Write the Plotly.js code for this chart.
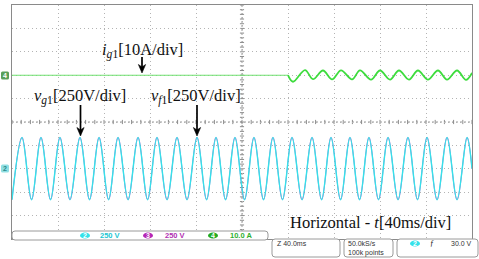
<!DOCTYPE html>
<html>
<head>
<meta charset="utf-8">
<script src="https://cdn.plot.ly/plotly-3.0.1.min.js"></script>
<style>html,body{margin:0;padding:0;background:#fff;}#chart{width:479px;height:259px;}</style>
</head>
<body>
<div id="chart"></div>
<script>
// ---- data read from the scope capture (time in ms, 40 ms/div, 0..400 ms) ----
const vTime = [0, 8.7, 17.0, 25.2, 33.5, 41.7, 50.4, 59.1, 67.4, 75.7, 84.0, 92.2, 100.9, 109.6,
  117.9, 126.1, 134.8, 143.5, 152.2, 160.9, 169.2, 177.4, 185.7, 193.9, 202.2, 210.4, 218.7,
  226.9, 235.2, 243.5, 252.2, 260.9, 269.2, 277.4, 285.7, 293.9, 302.2, 310.4, 318.7, 327.0,
  335.7, 344.3, 352.6, 360.9, 369.6, 378.3, 387.0, 395.7, 400];
const vg1Volts = [-330, 335, -330, 335, -330, 335, -330, 335, -330, 335, -330, 335, -330, 335,
  -330, 335, -330, 335, -330, 335, -330, 335, -330, 335, -330, 335, -330,
  335, -330, 335, -330, 335, -330, 335, -330, 335, -330, 335, -330, 335,
  -330, 335, -330, 335, -330, 335, -330, 335, 0];
const vf1Volts = [-330, 335, -330, 335, -330, 335, -330, 335, -330, 335, -330, 335, -330, 335,
  -330, 335, -330, 335, -330, 335, -330, 335, -330, 335, -330, 335, -330,
  335, -330, 335, -330, 335, -330, 335, -330, 335, -330, 335, -330, 335,
  -330, 335, -330, 335, -330, 335, -330, 335, 0];
// grid current: zero until ~240 ms, then oscillation
const iFlatTime = [0, 240.0];
const iFlatAmps = [0, 0];
const iOscTime = [240.0, 244.3, 254.8, 261.7, 270.4, 278.3, 286.1, 295.7, 302.6, 312.2, 320.0,
  328.7, 336.5, 345.2, 353.0, 361.7, 370.4, 378.3, 387.0, 394.8, 400];
const iOscAmps = [0, -2.8, 2.2, -1.7, 2.0, -1.8, 2.1, -1.8, 2.1, -1.9, 2.0,
  -1.9, 2.0, -1.9, 2.0, -1.9, 2.0, -1.9, 2.0, -2.0, 1.0];

// scope settings
const voltsPerDiv = 250, ampsPerDiv = 10, msPerDiv = 40;
const vOffsetDiv = -2, iOffsetDiv = 2;
const statusLabels = ['250 V', '250 V', '10.0 A'];
const channelIds = ['2', '3', '4'];

// ---- helpers (pixel -> paper, margins are zero so paper = full figure) ----
const W = 479, H = 259;
const X = px => px / W;
const Y = py => 1 - py / H;
const P = (x, y) => X(x) + ',' + Y(y);
function rrect(x0, y0, x1, y1, r) {
  return 'M' + P(x0 + r, y0) + ' L' + P(x1 - r, y0) + ' Q' + P(x1, y0) + ' ' + P(x1, y0 + r) +
    ' L' + P(x1, y1 - r) + ' Q' + P(x1, y1) + ' ' + P(x1 - r, y1) +
    ' L' + P(x0 + r, y1) + ' Q' + P(x0, y1) + ' ' + P(x0, y1 - r) +
    ' L' + P(x0, y0 + r) + ' Q' + P(x0, y0) + ' ' + P(x0 + r, y0) + ' Z';
}

const cyan = '#34e2ea', purple = '#b526b5', green = '#3ddc3d';

const traces = [
  {x: vTime, y: vf1Volts, yaxis: 'y2', type: 'scatter', mode: 'lines',
   line: {color: purple, width: 0.7, shape: 'spline', smoothing: 1}, name: 'v_f1'},
  {x: vTime, y: vg1Volts, yaxis: 'y2', type: 'scatter', mode: 'lines',
   line: {color: cyan, width: 1.4, shape: 'spline', smoothing: 1}, name: 'v_g1'},
  {x: iFlatTime, y: iFlatAmps, yaxis: 'y3', type: 'scatter', mode: 'lines',
   line: {color: '#6fe06f', width: 1.1}, name: 'i_g1'},
  {x: iOscTime, y: iOscAmps, yaxis: 'y3', type: 'scatter', mode: 'lines',
   line: {color: green, width: 1.8, shape: 'spline', smoothing: 1}, name: 'i_g1'}
];

const shapes = [];
// centre cross lines with minor ticks (1/5 division)
shapes.push({type: 'line', xref: 'x', yref: 'y', x0: 0, x1: 400, y0: 0, y1: 0,
  line: {color: '#9a9a9a', width: 1, dash: '2px,2px'}, layer: 'below'});
shapes.push({type: 'line', xref: 'x', yref: 'y', x0: 200, x1: 200, y0: -5, y1: 5,
  line: {color: '#9a9a9a', width: 1, dash: '2px,2px'}, layer: 'below'});
for (let k = 0; k <= 50; k++) {
  const t = k * msPerDiv / 5;
  shapes.push({type: 'line', xref: 'x', yref: 'y', x0: t, x1: t, y0: -0.09, y1: 0.09,
    line: {color: '#8c8c8c', width: 1}, layer: 'below'});
}
for (let k = -25; k <= 25; k++) {
  const d = k / 5;
  shapes.push({type: 'line', xref: 'x', yref: 'y', x0: 198.2, x1: 201.8, y0: d, y1: d,
    line: {color: '#8c8c8c', width: 1}, layer: 'below'});
}
// status strip and bottom boxes
shapes.push({type: 'path', xref: 'paper', yref: 'paper', path: rrect(12, 231, 268, 240, 3),
  fillcolor: '#ffffff', line: {color: '#9a9a9a', width: 1}, layer: 'above'});
shapes.push({type: 'path', xref: 'paper', yref: 'paper', path: rrect(272, 239, 340, 257, 3),
  fillcolor: '#ffffff', line: {color: '#9a9a9a', width: 1}, layer: 'above'});
shapes.push({type: 'path', xref: 'paper', yref: 'paper', path: rrect(344, 239, 393, 257, 3),
  fillcolor: '#ffffff', line: {color: '#9a9a9a', width: 1}, layer: 'above'});
shapes.push({type: 'path', xref: 'paper', yref: 'paper', path: rrect(397, 239, 478, 257, 3),
  fillcolor: '#ffffff', line: {color: '#9a9a9a', width: 1}, layer: 'above'});
// channel badges in status strip
const badges = [[85, 235.5, cyan], [148, 235.5, purple], [213, 235.5, '#22aa22'], [415, 243.5, cyan]];
badges.forEach(b => {
  shapes.push({type: 'circle', xref: 'paper', yref: 'paper', x0: X(b[0] - 5), x1: X(b[0] + 5),
    y0: Y(b[1] + 3), y1: Y(b[1] - 3), fillcolor: b[2], line: {width: 0}, layer: 'above'});
});
// channel ground markers on the left
shapes.push({type: 'path', xref: 'paper', yref: 'paper', path: rrect(1, 71.5, 9, 79.5, 1.5),
  fillcolor: '#5aa05a', line: {width: 0}, layer: 'above'});
shapes.push({type: 'path', xref: 'paper', yref: 'paper', path: rrect(1, 164.5, 9, 172.5, 1.5),
  fillcolor: '#8fdfe3', line: {width: 0}, layer: 'above'});
// arrows (line + stealth head)
function arrow(x, tipY, tailY) {
  shapes.push({type: 'line', xref: 'paper', yref: 'paper', x0: X(x), x1: X(x), y0: Y(tailY), y1: Y(tipY - 5),
    line: {color: '#000', width: 1.7}, layer: 'above'});
  shapes.push({type: 'path', xref: 'paper', yref: 'paper',
    path: 'M' + P(x - 3.6, tipY - 8.5) + ' L' + P(x, tipY) + ' L' + P(x + 3.6, tipY - 8.5) + ' L' + P(x, tipY - 6) + ' Z',
    fillcolor: '#000', line: {color: '#000', width: 0.6}, layer: 'above'});
}
arrow(142, 73, 57);
arrow(80.5, 136, 105);
arrow(197, 136, 105);

const serif = 'Liberation Serif, Times New Roman, serif';
const sans = 'Liberation Sans, Arial, sans-serif';
const ann = [];
function txt(x, y, text, size, color, family, anchor, weight) {
  ann.push({xref: 'paper', yref: 'paper', x: X(x), y: Y(y), text: text, showarrow: false,
    xanchor: anchor || 'center', yanchor: 'middle',
    font: {size: size, color: color, family: family, weight: weight || 'normal'}});
}
txt(142, 50, '<i>i</i><sub><i>g</i>1</sub>[10A/div]', 16.5, '#111', serif);
txt(80, 97, '<i>v</i><sub><i>g</i>1</sub>[250V/div]', 16.5, '#111', serif);
txt(196, 97, '<i>v</i><sub><i>f</i>1</sub>[250V/div]', 16.5, '#111', serif);
txt(370, 223, 'Horizontal - <i>t</i>[40ms/div]', 16.5, '#111', serif);

txt(98, 235.8, statusLabels[0], 7.5, '#22c6d2', sans, 'left', 'bold');
txt(163, 235.8, statusLabels[1], 7.5, '#b22fb2', sans, 'left', 'bold');
txt(228, 235.8, statusLabels[2], 7.5, '#2fb02f', sans, 'left', 'bold');
txt(85, 235.6, channelIds[0], 7, '#fff', sans, 'center', 'bold');
txt(148, 235.6, channelIds[1], 7, '#fff', sans, 'center', 'bold');
txt(213, 235.6, channelIds[2], 7, '#fff', sans, 'center', 'bold');
txt(415, 243.6, channelIds[0], 7, '#fff', sans, 'center', 'bold');
txt(5, 75.6, channelIds[2], 7, '#fff', sans, 'center', 'bold');
txt(5, 168.6, channelIds[0], 7, '#2a8a8a', sans, 'center', 'bold');
txt(275, 243.5, 'Z 40.0ms', 7, '#333', sans, 'left');
txt(346, 243.5, '50.0kS/s', 7, '#333', sans, 'left');
txt(346, 252.5, '100k points', 7, '#333', sans, 'left');
txt(432, 243.5, 'ƒ', 8, '#222', serif);
txt(474, 243.5, '30.0 V', 7, '#333', sans, 'right');

const gridCol = '#b4b4b4';
const layout = {
  width: W, height: H,
  margin: {l: 0, r: 0, t: 0, b: 0, pad: 0},
  paper_bgcolor: '#ffffff', plot_bgcolor: '#ffffff',
  showlegend: false,
  xaxis: {domain: [X(12), X(472)], range: [0, 10 * msPerDiv], tick0: 0, dtick: msPerDiv,
    showticklabels: false, ticks: '', showgrid: true, gridcolor: gridCol, griddash: '1px,3px', gridwidth: 1,
    showline: true, mirror: true, linecolor: '#8a8a8a', linewidth: 1, zeroline: false, fixedrange: true},
  yaxis: {domain: [Y(239), Y(5)], range: [-5, 5], tick0: 0, dtick: 1,
    showticklabels: false, ticks: '', showgrid: true, gridcolor: gridCol, griddash: '1px,3px', gridwidth: 1,
    showline: true, mirror: true, linecolor: '#8a8a8a', linewidth: 1, zeroline: false, fixedrange: true},
  yaxis2: {overlaying: 'y', range: [(-5 - vOffsetDiv) * voltsPerDiv, (5 - vOffsetDiv) * voltsPerDiv],
    visible: false, showgrid: false, zeroline: false, fixedrange: true},
  yaxis3: {overlaying: 'y', range: [(-5 - iOffsetDiv) * ampsPerDiv, (5 - iOffsetDiv) * ampsPerDiv],
    visible: false, showgrid: false, zeroline: false, fixedrange: true},
  shapes: shapes,
  annotations: ann
};

Plotly.newPlot('chart', traces, layout, {staticPlot: true, displayModeBar: false});
</script>
</body>
</html>
